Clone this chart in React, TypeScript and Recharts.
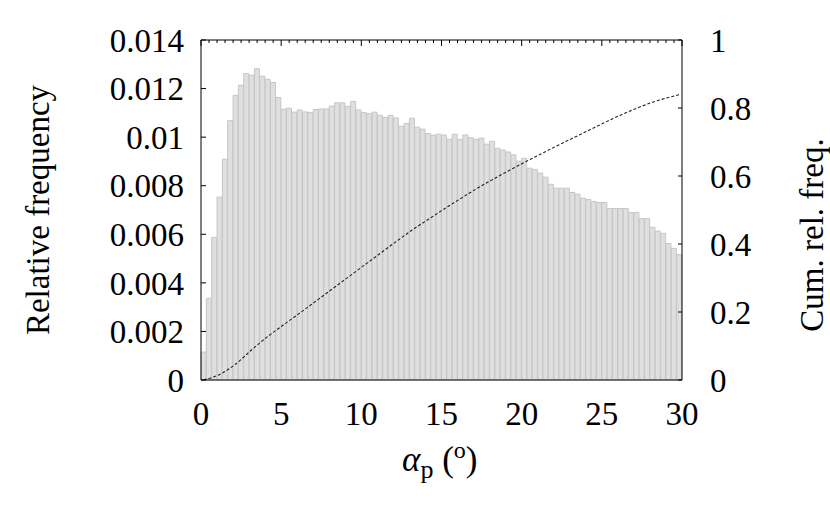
import { ComposedChart, Bar, Line, XAxis, YAxis } from "recharts";

// relative frequency per 1/3 degree bin, 0..30 deg (90 bins)
const freq = [
  0.00115, 0.00336, 0.00587, 0.00753, 0.00909, 0.01068, 0.01172, 0.01214, 0.01262, 0.01255,
  0.01282, 0.01251, 0.01238, 0.01225, 0.01163, 0.01115, 0.01119, 0.01103, 0.01112, 0.01104,
  0.01101, 0.01114, 0.01116, 0.01116, 0.01128, 0.01142, 0.01141, 0.01127, 0.01147, 0.01112,
  0.01101, 0.01097, 0.01103, 0.0109, 0.01081, 0.0109, 0.01079, 0.01045, 0.01056, 0.01078,
  0.01041, 0.01033, 0.01015, 0.01008, 0.01012, 0.01009, 0.00991, 0.01012, 0.00991, 0.01009,
  0.00998, 0.00991, 0.00996, 0.00971, 0.00983, 0.00954, 0.00947, 0.00939, 0.00927, 0.00901,
  0.00913, 0.00872, 0.00867, 0.00852, 0.00835, 0.00806, 0.0079, 0.0079, 0.0079, 0.00772,
  0.00765, 0.00749, 0.00743, 0.00735, 0.00731, 0.00731, 0.00706, 0.00706, 0.00706, 0.00706,
  0.0069, 0.0069, 0.00665, 0.00665, 0.00629, 0.00613, 0.00604, 0.00562, 0.00542, 0.00517,
];
const binWidth = 1 / 3;

// cumulative curve, read at every third bin centre (plus the last one)
const cumBins = [
  0, 3, 6, 9, 12, 15, 18, 21, 24, 27, 30, 33, 36, 39, 42, 45,
  48, 51, 54, 57, 60, 63, 66, 69, 72, 75, 78, 81, 84, 87, 89,
];
const cumValues = [
  0.0005, 0.0165, 0.047, 0.089, 0.128, 0.163, 0.197, 0.232, 0.267, 0.302, 0.337,
  0.372, 0.407, 0.441, 0.472, 0.503, 0.533, 0.562, 0.589, 0.615, 0.64,
  0.664, 0.688, 0.711, 0.734, 0.757, 0.779, 0.799, 0.817, 0.831, 0.839,
];

const xTicks = [0, 5, 10, 15, 20, 25, 30];
const topTicks = Array.from({ length: 61 }, (_, i) => i * 0.5);
const leftTicks = [0, 0.002, 0.004, 0.006, 0.008, 0.01, 0.012, 0.014];
const leftTickLabels = ["0", "0.002", "0.004", "0.006", "0.008", "0.01", "0.012", "0.014"];
const rightTicks = [0, 0.2, 0.4, 0.6, 0.8, 1];
const rightTickLabels = ["0", "0.2", "0.4", "0.6", "0.8", "1"];

const data = freq.map((f, i) => {
  const k = cumBins.indexOf(i);
  return { x: (i + 0.5) * binWidth, freq: f, cum: k >= 0 ? cumValues[k] : undefined };
});

const FONT = '"Liberation Serif", "DejaVu Serif", serif';
const tickStyle = { fill: "#000", fontSize: 33, fontFamily: FONT };
const axisLine = { stroke: "#000", strokeWidth: 1 };

const TopTick = (props: any) => {
  const { x, y, payload } = props;
  const major = payload.value % 5 === 0;
  return <line x1={x} x2={x} y1={y} y2={y + (major ? 6 : 3)} stroke="#000" strokeWidth={1} />;
};

export default function App() {
  return (
    <div style={{ position: "absolute", left: 0, top: 0, width: 830, height: 519, background: "#fff" }}>
      <ComposedChart
        width={830}
        height={519}
        data={data}
        margin={{ top: 39, right: 48, bottom: 79, left: 101 }}
        barCategoryGap={0}
        barGap={0}
      >
        <Bar
          dataKey="freq"
          yAxisId="left"
          xAxisId="bottom"
          fill="#dfdfdf"
          stroke="#c6c6c6"
          strokeWidth={1}
          isAnimationActive={false}
        />
        <Line
          dataKey="cum"
          yAxisId="right"
          xAxisId="bottom"
          type="monotone"
          connectNulls
          dot={false}
          stroke="#222"
          strokeWidth={1.1}
          strokeDasharray="3 2"
          isAnimationActive={false}
        />
        <XAxis
          xAxisId="bottom"
          dataKey="x"
          type="number"
          domain={[0, 30]}
          ticks={xTicks}
          height={60}
          tickLine={false}
          tickSize={0}
          tickMargin={22}
          axisLine={axisLine}
          tick={tickStyle}
          interval={0}
          label={{
            content: () => (
              <text x={402} y={471} fontFamily={FONT} fontSize={35} fill="#000">
                <tspan fontStyle="italic">α</tspan>
                <tspan fontSize={26} dy={7}>p</tspan>
                <tspan dy={-7}> (</tspan>
                <tspan fontSize={24} dy={-13}>o</tspan>
                <tspan dy={13}>)</tspan>
              </text>
            ),
          }}
        />
        <XAxis
          xAxisId="top"
          orientation="top"
          type="number"
          dataKey="x"
          domain={[0, 30]}
          ticks={topTicks}
          height={1}
          tickSize={0}
          tickMargin={0}
          tickLine={false}
          axisLine={axisLine}
          tick={<TopTick />}
          interval={0}
        />
        <YAxis
          yAxisId="left"
          orientation="left"
          domain={[0, 0.014]}
          ticks={leftTicks}
          tickFormatter={(v: number) => leftTickLabels[leftTicks.indexOf(v)] ?? String(v)}
          width={100}
          tickSize={-5}
          tickMargin={22}
          tickLine={{ stroke: "#000" }}
          axisLine={axisLine}
          tick={tickStyle}
          interval={0}
          label={{
            content: () => (
              <text
                x={49}
                y={210}
                transform="rotate(-90 49 210)"
                textAnchor="middle"
                fontFamily={FONT}
                fontSize={33}
                fill="#000"
              >
                Relative frequency
              </text>
            ),
          }}
        />
        <YAxis
          yAxisId="right"
          orientation="right"
          domain={[0, 1]}
          ticks={rightTicks}
          tickFormatter={(v: number) => rightTickLabels[rightTicks.indexOf(v)] ?? String(v)}
          width={100}
          tickSize={-4}
          tickMargin={32}
          tickLine={{ stroke: "#000" }}
          axisLine={axisLine}
          tick={tickStyle}
          interval={0}
          label={{
            content: () => (
              <text
                x={823}
                y={235}
                transform="rotate(-90 823 235)"
                textAnchor="middle"
                fontFamily={FONT}
                fontSize={33}
                fill="#000"
              >
                Cum. rel. freq.
              </text>
            ),
          }}
        />
      </ComposedChart>
    </div>
  );
}
